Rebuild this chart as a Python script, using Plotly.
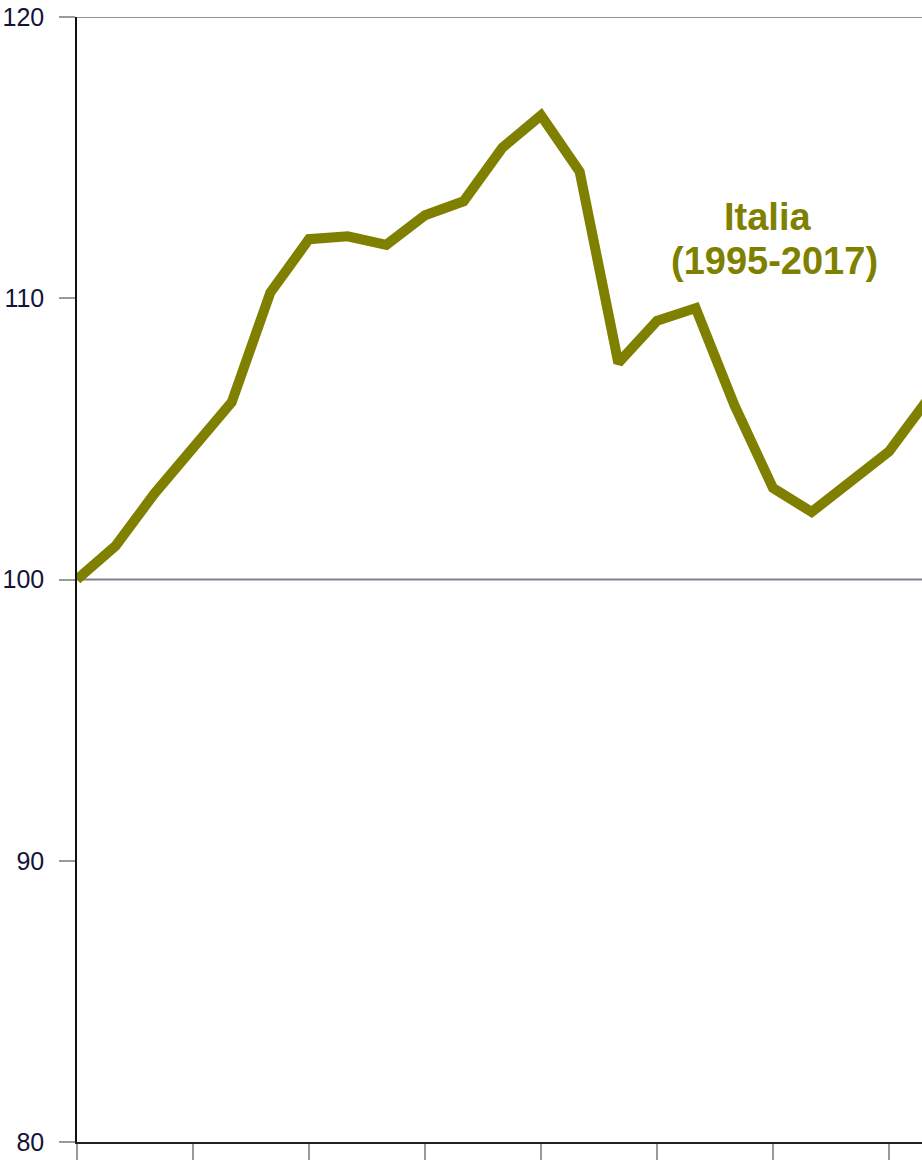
import plotly.graph_objects as go

# Index of the Italian series, 1995 = 100
years = list(range(1995, 2018))
italia = [100.0, 101.2, 103.05, 104.7, 106.3, 110.2, 112.1, 112.2, 111.9, 112.95,
          113.45, 115.35, 116.5, 114.5, 107.7, 109.2, 109.65, 106.2, 103.25, 102.4,
          103.5, 104.55, 106.4]

y_ticks = [80, 90, 100, 110, 120]
x_ticks = list(range(1995, 2018, 3))

OLIVE = "#808000"
LABEL_FONT = "Liberation Sans, Arial"

fig = go.Figure()

fig.add_trace(go.Scatter(
    x=years, y=italia, mode="lines",
    line=dict(color=OLIVE, width=10),
    showlegend=False, hoverinfo="skip",
))

# Reference line at 100 and top frame line at 120
fig.add_shape(type="line", xref="paper", yref="y", x0=0, x1=1, y0=100, y1=100,
              line=dict(color="#7f8291", width=2), layer="below")
fig.add_shape(type="line", xref="paper", yref="y", x0=0, x1=1, y0=120, y1=120,
              line=dict(color="#6e6e6e", width=1.3), layer="below")

fig.add_annotation(x=2012.87, y=112.9, xref="x", yref="y", text="<b>Italia</b>",
                   showarrow=False, font=dict(family=LABEL_FONT, size=38, color=OLIVE),
                   xanchor="center", yanchor="middle")
fig.add_annotation(x=2013.05, y=111.32, xref="x", yref="y", text="<b>(1995-2017)</b>",
                   showarrow=False, font=dict(family=LABEL_FONT, size=38, color=OLIVE),
                   xanchor="center", yanchor="middle")

fig.update_xaxes(
    range=[1995, 2016.853], tickvals=x_ticks, showticklabels=False,
    ticks="outside", ticklen=16, tickwidth=2, tickcolor="#9a9a9a",
    showline=True, linecolor="#222222", linewidth=2,
    showgrid=False, zeroline=False, fixedrange=True,
)
fig.update_yaxes(
    range=[80, 120], tickvals=y_ticks, ticktext=[str(v) for v in y_ticks],
    ticks="outside", ticklen=16, tickwidth=1.5, tickcolor="#9a9a9a",
    tickfont=dict(family=LABEL_FONT, size=25, color="#141436"),
    ticklabelstandoff=10,
    showline=True, linecolor="#111111", linewidth=1.5,
    showgrid=False, zeroline=False, fixedrange=True,
)

fig.update_layout(
    width=922, height=1161,
    margin=dict(l=77, r=0, t=17, b=19),
    paper_bgcolor="white", plot_bgcolor="white",
)

fig.write_html("out.html")
